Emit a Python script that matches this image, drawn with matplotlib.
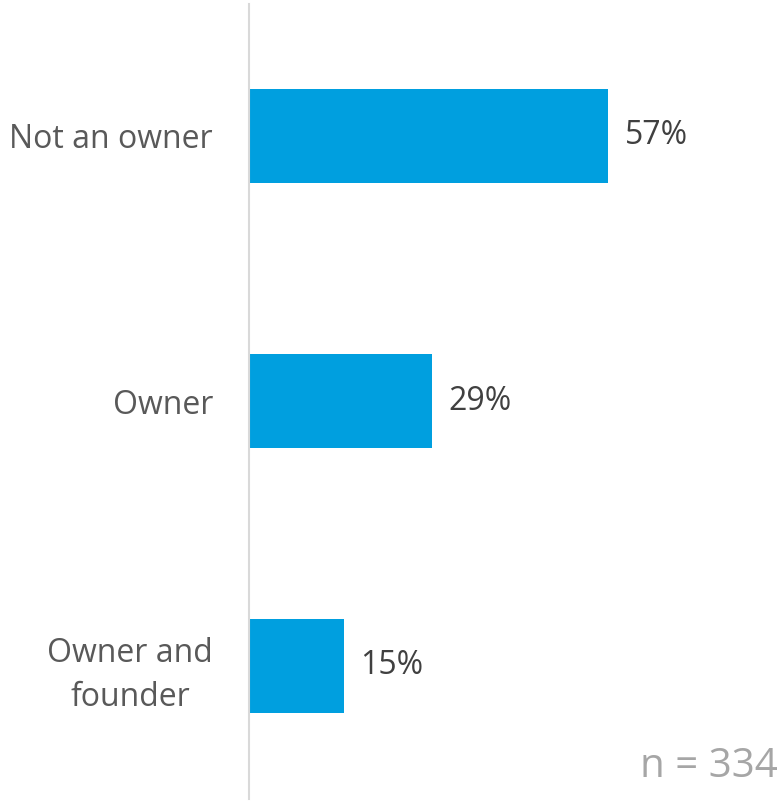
import matplotlib.pyplot as plt

categories = ["Not an owner", "Owner", "Owner and\nfounder"]
shares = [57, 29, 15]
sample_size = 334

plt.rcParams["font.family"] = ["Open Sans", "DejaVu Sans"]

fig = plt.figure(figsize=(7.82, 8.02), dpi=100)
ax = fig.add_axes([249 / 782, 3.5 / 802, 533 / 782, 795 / 802])

ax.barh(categories, shares, height=0.352, color="#009FDF")
ax.set_xlim(0, 533 / 6.3)
ax.set_ylim(2.5, -0.5)

for i, v in enumerate(shares):
    ax.text(v + 2.7, i, f"{v}%", va="center", ha="left",
            fontsize=23, color="#404040")

# only the vertical baseline stays visible
for side in ["top", "right", "bottom"]:
    ax.spines[side].set_visible(False)
ax.spines["left"].set_color("#D9D9D9")
ax.spines["left"].set_linewidth(1.5)
ax.set_xticks([])
ax.tick_params(axis="y", length=0, pad=26, labelsize=23, labelcolor="#595959")
for lbl in ax.get_yticklabels():
    lbl.set_multialignment("center")
    lbl.set_linespacing(1.45)

fig.text(778 / 782, 25 / 802, f"n = {sample_size}", ha="right", va="baseline",
         fontsize=29, color="#A6A6A6")

fig.savefig("out.png", dpi=100)
